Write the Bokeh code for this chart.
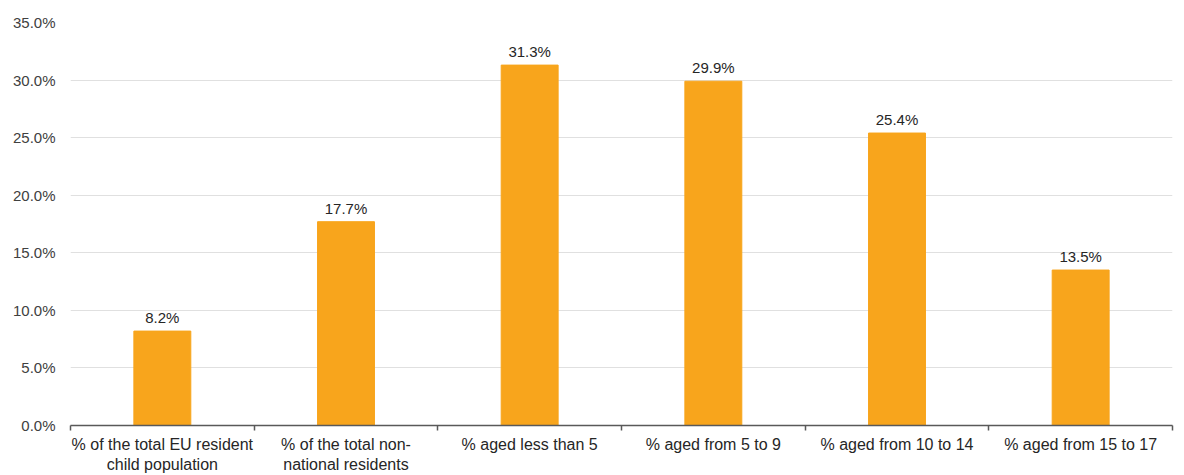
from bokeh.plotting import figure
from bokeh.models import ColumnDataSource, FixedTicker, Range1d, LabelSet
from bokeh.core.properties import value
from bokeh.embed import file_html
from bokeh.resources import INLINE
import numpy as np

categories = [
    "% of the total EU resident\nchild population",
    "% of the total non-\nnational residents",
    "% aged less than 5",
    "% aged from 5 to 9",
    "% aged from 10 to 14",
    "% aged from 15 to 17",
]
values = [8.2, 17.7, 31.3, 29.9, 25.4, 13.5]
y_ticks = [0, 5, 10, 15, 20, 25, 30, 35]

n = len(categories)
xs = list(np.arange(n) + 0.5)
src = ColumnDataSource(dict(x=xs, top=values, lab=[f"{v:.1f}%" for v in values]))

p = figure(width=1184, height=475, output_backend="svg", toolbar_location=None,
           x_range=Range1d(0, n), y_range=Range1d(0, 35),
           min_border_left=70, min_border_right=12, min_border_top=22, min_border_bottom=46)
p.outline_line_color = None
p.background_fill_color = "white"

p.vbar(x="x", top="top", width=0.31, source=src, color="#F8A51C")

labels = LabelSet(x="x", y="top", text="lab", source=src, text_align="center",
                  text_baseline="bottom", y_offset=5, text_font_size=value("15px"),
                  text_font=value("Liberation Sans"), text_color="#262626")
p.add_layout(labels)

p.yaxis.ticker = FixedTicker(ticks=y_ticks)
p.yaxis.major_label_overrides = {t: f"{t:.1f}%" for t in y_ticks}
p.yaxis.axis_line_color = None
p.yaxis.major_tick_line_color = None
p.yaxis.minor_tick_line_color = None
p.yaxis.major_label_text_font = "Liberation Sans"
p.yaxis.major_label_text_font_size = "15px"
p.yaxis.major_label_text_color = "#404040"
p.yaxis.major_label_standoff = 9

p.xaxis.ticker = FixedTicker(ticks=xs, minor_ticks=list(range(n + 1)))
p.xaxis.major_label_overrides = {x: c for x, c in zip(xs, categories)}
p.xaxis.axis_line_color = "#595959"
p.xaxis.axis_line_width = 1.5
p.xaxis.major_tick_line_color = None
p.xaxis.minor_tick_line_color = "#595959"
p.xaxis.minor_tick_line_width = 1.5
p.xaxis.minor_tick_out = 5
p.xaxis.minor_tick_in = 0
p.xaxis.major_label_text_font = "Liberation Sans"
p.xaxis.major_label_text_font_size = "16px"
p.xaxis.major_label_text_color = "#262626"
p.xaxis.major_label_standoff = 4

p.xgrid.grid_line_color = None
p.ygrid.grid_line_color = "#E0E0E0"
p.ygrid.grid_line_width = 1

open("out.html", "w").write(file_html(p, INLINE))
